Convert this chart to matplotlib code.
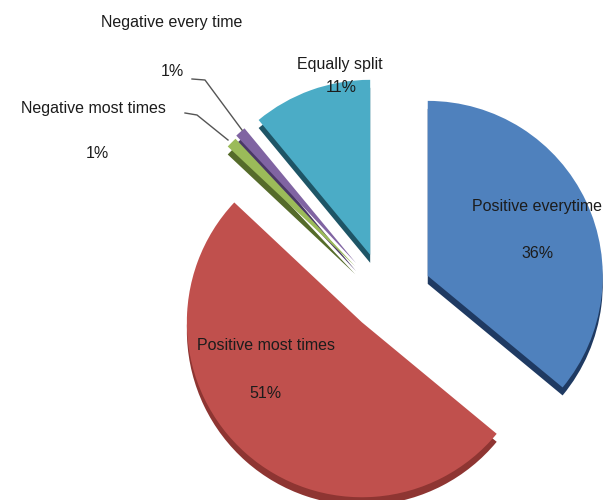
import matplotlib
matplotlib.use("Agg")
import matplotlib.pyplot as plt

# survey answers, clockwise from 12 o'clock
labels = ["Positive everytime", "Positive most times", "Negative most times",
          "Negative every time", "Equally split"]
shares = [36, 51, 1, 1, 11]
explode = [0.27, 0.20, 0.24, 0.25, 0.25]

top_colors = ["#4F81BD", "#C0504D", "#9BBB59", "#8064A2", "#4BACC6"]
side_colors = ["#1F3A62", "#8E3532", "#556B2A", "#4A3866", "#1E5566"]

plt.rcParams["font.family"] = ["Liberation Sans", "DejaVu Sans"]

fig = plt.figure(figsize=(6.12, 5.0), dpi=100)
ax = fig.add_axes([0, 0, 1, 1])

cx, cy, radius, depth = 385, 204, 175, 8
# pie() takes the explode offset in data units
offsets = [e * radius for e in explode]

# side of the 3-D disc: same pie dropped a few pixels, darker
ax.pie(shares, explode=offsets, colors=side_colors, startangle=90,
       counterclock=False, radius=radius, center=(cx, cy - depth),
       wedgeprops=dict(linewidth=0), frame=True)
# top face
ax.pie(shares, explode=offsets, colors=top_colors, startangle=90,
       counterclock=False, radius=radius, center=(cx, cy),
       wedgeprops=dict(linewidth=0), frame=True)

ax.set_xlim(0, 612)
ax.set_ylim(0, 500)
ax.set_aspect("equal")
ax.axis("off")

txt = dict(fontsize=11.5, color="#1c1c1c", ha="center", va="center")
pct = ["%d%%" % v for v in shares]

ax.text(537, 293, labels[0], **txt)
ax.text(538, 247, pct[0], **txt)
ax.text(266, 155, labels[1], **txt)
ax.text(265, 107, pct[1], **txt)
ax.text(93, 392, labels[2], **txt)
ax.text(97, 347, pct[2], **txt)
ax.text(172, 478, labels[3], **txt)
ax.text(172, 428, pct[3], **txt)
ax.text(340, 436, labels[4], **txt)
ax.text(341, 412, pct[4], **txt)

# leader lines for the two thin slices
ax.plot([185, 197, 228], [387, 385, 360], color="#555555", lw=1)
ax.plot([192, 205, 242], [421, 420, 370], color="#555555", lw=1)

fig.savefig("out.png", dpi=100, facecolor="white")
